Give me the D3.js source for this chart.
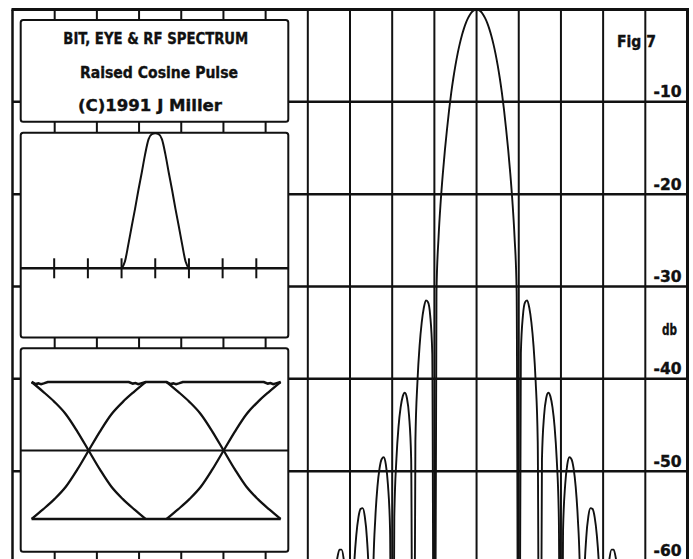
<!DOCTYPE html>
<html><head><meta charset="utf-8">
<script src="https://cdn.jsdelivr.net/npm/d3@7"></script>
<style>
html,body{margin:0;padding:0;background:#fff;}
svg{display:block;}
text{font-family:"DejaVu Sans Condensed","Liberation Sans Narrow",sans-serif;font-weight:bold;fill:#111;stroke:#111;stroke-width:0.35px;}
</style></head><body>
<svg id="c" width="693" height="559"></svg>
<script>
// ---------- DATA ----------
const titleLines = ["BIT, EYE & RF SPECTRUM", "Raised Cosine Pulse", "(C)1991 J Miller"];
const figLabel = "Fig 7";
const dbUnit = "db";
const dbTicks = [-10, -20, -30, -40, -50, -60];
const dbTickLabels = ["-10", "-20", "-30", "-40", "-50", "-60"];
// frequency grid (in units of 1/pulse width), one line every 2 units
const gridFreqs = [-20, -18, -16, -14, -12, -10, -8, -6, -4, -2, 0, 2, 4, 6, 8];
// spectrum readings, f = -7.0 ... 7.0 step 0.1 (nulls plotted far below the floor)
const specFreq = d3.range(-70, 71).map(i => i / 10);
const specDb = [
  -100, -70.3, -64.3, -61.2, -59.4, -58.5, -58.5, -59.5, -61.9, -67.0,
  -100, -66.1, -60.1, -56.9, -55.0, -54.1, -54.0, -54.9, -57.2, -62.3,
  -100, -61.2, -55.1, -51.7, -49.7, -48.7, -48.5, -49.3, -51.5, -56.4,
  -100, -55.0, -48.7, -45.2, -43.1, -41.9, -41.5, -42.1, -44.0, -48.7,
  -100, -46.8, -40.2, -36.4, -33.9, -32.3, -31.5, -31.7, -33.1, -37.2,
  -100, -30.5, -24.6, -20.8, -17.8, -15.2, -12.94, -10.84, -9.01, -7.42,
  -6.02, -4.80, -3.75, -2.84, -2.07, -1.42, -0.91, -0.51, -0.22, -0.06,
  0,
  -0.06, -0.22, -0.51, -0.91, -1.42, -2.07, -2.84, -3.75, -4.80, -6.02,
  -7.42, -9.01, -10.84, -12.94, -15.2, -17.8, -20.8, -24.6, -30.5, -100,
  -37.2, -33.1, -31.7, -31.5, -32.3, -33.9, -36.4, -40.2, -46.8, -100,
  -48.7, -44.0, -42.1, -41.5, -41.9, -43.1, -45.2, -48.7, -55.0, -100,
  -56.4, -51.5, -49.3, -48.5, -48.7, -49.7, -51.7, -55.1, -61.2, -100,
  -62.3, -57.2, -54.9, -54.0, -54.1, -55.0, -56.9, -60.1, -66.1, -100,
  -67.0, -61.9, -59.5, -58.5, -58.5, -59.4, -61.2, -64.3, -70.3, -100
];
// bit (pulse) panel: time in ticks, amplitude 0..1
const pulseTicks = [1, 2, 3, 4, 5, 6, 7];
const pulseT = [3.0, 3.1, 3.2, 3.3, 3.4, 3.5, 3.6, 3.7, 3.8, 3.9, 4.0, 4.1, 4.2, 4.3, 4.4, 4.5, 4.6, 4.7, 4.8, 4.9, 5.0];
const pulseV = [0, 0.05, 0.175, 0.31, 0.44, 0.58, 0.71, 0.846, 0.955, 0.993, 1, 0.993, 0.955, 0.846, 0.71, 0.58, 0.44, 0.31, 0.175, 0.05, 0];
// eye panel: transitions (fraction through edge) and levels
const eyeEdgeS = [0, 0.1, 0.2, 0.3, 0.4, 0.5, 0.6, 0.7, 0.8, 0.9, 1.0];
const eyeFall = [1, 0.93, 0.855, 0.765, 0.64, 0.5, 0.36, 0.235, 0.145, 0.07, 0];
const eyeRise = [0, 0.07, 0.145, 0.235, 0.36, 0.5, 0.64, 0.765, 0.855, 0.93, 1];
const eyeEdgeStart = [0.08, 1.08];
const eyeEdgeWidth = 0.845;
const eyeRailT = [0.08, 0.11, 0.13, 0.15, 0.17, 0.2, 0.8, 0.83, 0.85, 0.87, 0.89, 0.925, 1.08, 1.11, 1.13, 1.15, 1.17, 1.2, 1.8, 1.83, 1.85, 1.87, 1.89, 1.925];
const eyeTopRail = [1, 0.985, 0.99, 0.984, 0.99, 1, 1, 0.988, 0.992, 0.984, 0.99, 1, 1, 0.985, 0.99, 0.984, 0.99, 1, 1, 0.988, 0.992, 0.984, 0.99, 1];
const eyeBottomRail = [0, 0, 0, 0, 0, 0, 0, 0, 0, 0, 0, 0, 0, 0, 0, 0, 0, 0, 0, 0, 0, 0, 0, 0];

// ---------- DRAW ----------
const svg = d3.select("#c");
const ink = "#111";
const x = d3.scaleLinear().domain([-22, 10]).range([12.5, 687.5]);
const y = d3.scaleLinear().domain([0, -60]).range([9.5, 563.5]);

svg.append("defs").append("clipPath").attr("id", "plotclip")
  .append("rect").attr("x", x(-22)).attr("y", y(0)).attr("width", x(10) - x(-22)).attr("height", 570);

// grid
svg.append("g").selectAll("line").data(gridFreqs).join("line")
  .attr("x1", d => x(d)).attr("x2", d => x(d)).attr("y1", y(0)).attr("y2", 570)
  .attr("stroke", ink).attr("stroke-width", 2);
svg.append("g").selectAll("line").data(dbTicks).join("line")
  .attr("x1", x(-22)).attr("x2", x(10)).attr("y1", d => y(d)).attr("y2", d => y(d))
  .attr("stroke", ink).attr("stroke-width", 2.5);
// borders
svg.append("line").attr("x1", x(-22)).attr("x2", x(-22)).attr("y1", y(0)).attr("y2", 570).attr("stroke", ink).attr("stroke-width", 2.5);
svg.append("line").attr("x1", x(10)).attr("x2", x(10)).attr("y1", y(0)).attr("y2", 570).attr("stroke", ink).attr("stroke-width", 3);
svg.append("line").attr("x1", x(-22) - 1).attr("x2", x(10) + 1.5).attr("y1", y(0)).attr("y2", y(0)).attr("stroke", ink).attr("stroke-width", 3);

// spectrum
const specLine = d3.line().x((d, i) => x(specFreq[i])).y(d => y(d)).curve(d3.curveMonotoneX);
svg.append("path").attr("clip-path", "url(#plotclip)")
  .attr("d", specLine(specDb)).attr("fill", "none").attr("stroke", ink).attr("stroke-width", 1.9)
  .attr("stroke-linejoin", "round");

// right-hand labels
const lab = svg.append("g");
lab.selectAll("text").data(dbTicks).join("text")
  .attr("x", 681.5).attr("y", d => Math.min(y(d) - 4.5, 555.5)).attr("text-anchor", "end")
  .attr("font-size", 15).attr("textLength", 28).attr("lengthAdjust", "spacingAndGlyphs")
  .text((d, i) => dbTickLabels[i]);
lab.append("text").attr("x", 617).attr("y", 47).attr("font-size", 15.5)
  .attr("textLength", 39).attr("lengthAdjust", "spacingAndGlyphs").text(figLabel);
lab.append("text").attr("x", 662).attr("y", 335).attr("font-size", 15)
  .attr("textLength", 15).attr("lengthAdjust", "spacingAndGlyphs").text(dbUnit);

// left boxes
const boxes = [
  {y0: 20, y1: 121.7},
  {y0: 132.7, y1: 337.5},
  {y0: 348.3, y1: 551.7}
];
svg.append("g").selectAll("rect").data(boxes).join("rect")
  .attr("x", 20.7).attr("y", d => d.y0).attr("width", 288.3 - 20.7).attr("height", d => d.y1 - d.y0)
  .attr("rx", 2.5).attr("fill", "#fff").attr("stroke", ink).attr("stroke-width", 2);

// title text
const titlePos = [{x: 63.3, y: 43.5, w: 185}, {x: 80, y: 77.5, w: 158}, {x: 78, y: 110.5, w: 144}];
svg.append("g").selectAll("text").data(titleLines).join("text")
  .attr("x", (d, i) => titlePos[i].x).attr("y", (d, i) => titlePos[i].y)
  .attr("font-size", 16).attr("textLength", (d, i) => titlePos[i].w).attr("lengthAdjust", "spacingAndGlyphs")
  .text(d => d);

// pulse panel
const px = d3.scaleLinear().domain([0, 8]).range([20.5, 290]);
const py = d3.scaleLinear().domain([0, 1]).range([268.3, 133.3]);
svg.append("line").attr("x1", 20.7).attr("x2", 288.3).attr("y1", py(0)).attr("y2", py(0)).attr("stroke", ink).attr("stroke-width", 2.6);
svg.append("g").selectAll("line").data(pulseTicks).join("line")
  .attr("x1", d => px(d)).attr("x2", d => px(d)).attr("y1", py(0) - 10).attr("y2", py(0) + 10)
  .attr("stroke", ink).attr("stroke-width", 2);
const pulseLine = d3.line().x((d, i) => px(pulseT[i])).y(d => py(d)).curve(d3.curveMonotoneX);
svg.append("path").attr("d", pulseLine(pulseV)).attr("fill", "none").attr("stroke", ink).attr("stroke-width", 2);

// eye panel
const ex = d3.scaleLinear().domain([0, 2]).range([20.8, 290.8]);
const ey = d3.scaleLinear().domain([0, 1]).range([519, 382]);
svg.append("line").attr("x1", 20.7).attr("x2", 288.3).attr("y1", ey(0.5)).attr("y2", ey(0.5)).attr("stroke", ink).attr("stroke-width", 2.2);
const railLine = d3.line().x((d, i) => ex(eyeRailT[i])).y(d => ey(d));
svg.append("path").attr("d", railLine(eyeTopRail)).attr("fill", "none").attr("stroke", ink).attr("stroke-width", 2.6);
svg.append("path").attr("d", railLine(eyeBottomRail)).attr("fill", "none").attr("stroke", ink).attr("stroke-width", 2.6);
const eg = svg.append("g");
eyeEdgeStart.forEach(t0 => {
  const edge = d3.line().x((d, i) => ex(t0 + eyeEdgeS[i] * eyeEdgeWidth)).y(d => ey(d)).curve(d3.curveMonotoneX);
  eg.append("path").attr("d", edge(eyeFall)).attr("fill", "none").attr("stroke", ink).attr("stroke-width", 2.3);
  eg.append("path").attr("d", edge(eyeRise)).attr("fill", "none").attr("stroke", ink).attr("stroke-width", 2.3);
});
</script>
</body></html>
